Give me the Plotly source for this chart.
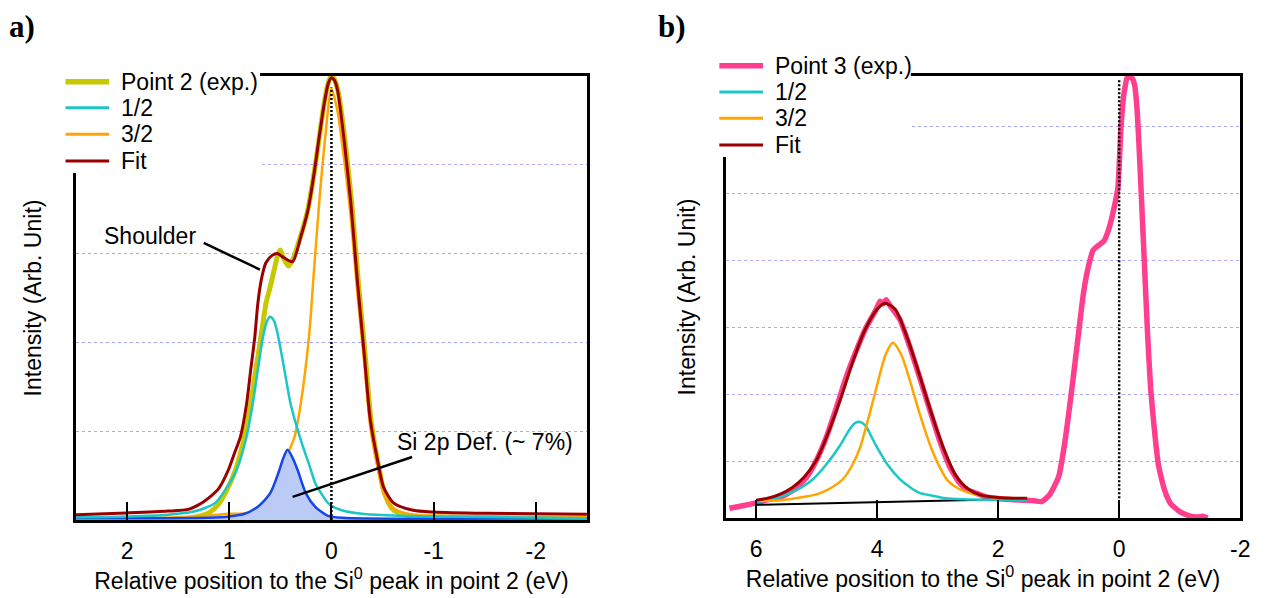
import plotly.graph_objects as go

# page body has an 8px margin; lay out in reference pixels shifted by that amount
OFF = 8
W, H = 1276 - OFF, 598 - OFF

# ---------------- Panel a data (Point 2) ----------------
a_exp_x = [2.5, 2.2, 2.0, 1.8, 1.6, 1.4, 1.3, 1.2, 1.11, 1.04, 0.94, 0.85, 0.79, 0.74, 0.69, 0.64, 0.60, 0.56,
           0.52, 0.50, 0.47, 0.42, 0.38, 0.30, 0.23, 0.17, 0.12, 0.07, 0.03, 0.0, -0.03, -0.07, -0.13, -0.20,
           -0.26, -0.33, -0.39, -0.46, -0.52, -0.60, -0.70, -0.85, -1.05, -1.2, -1.5, -2.0, -2.5]
a_exp_y = [0.02, 0.0, -0.03, -0.03, 0.0, 0.02, 0.04, 0.08, 0.17, 0.30, 0.56, 0.94, 1.31, 1.69, 2.06, 2.44, 2.62, 2.82,
           3.0, 3.04, 2.95, 2.86, 2.93, 3.2, 3.5, 3.9, 4.3, 4.7, 4.93, 5.0, 4.96, 4.8, 4.3, 3.55,
           2.72, 1.86, 1.1, 0.62, 0.30, 0.12, 0.06, 0.04, -0.02, 0.02, 0.02, 0.01, 0.01]

a_half_x = [2.5, 2.0, 1.6, 1.37, 1.25, 1.14, 1.05, 0.93, 0.83, 0.77, 0.72, 0.67, 0.63, 0.60, 0.56, 0.52, 0.46,
            0.40, 0.31, 0.20, 0.16, 0.10, 0.04, 0.0, -0.1, -0.3, -0.6, -1.0, -2.5]
a_half_y = [0.03, 0.04, 0.06, 0.09, 0.13, 0.19, 0.32, 0.56, 0.94, 1.31, 1.69, 2.06, 2.24, 2.29, 2.24, 2.06, 1.69,
            1.31, 0.94, 0.56, 0.42, 0.30, 0.20, 0.16, 0.11, 0.07, 0.05, 0.04, 0.02]

a_3half_x = [2.5, 1.5, 1.2, 1.0, 0.8, 0.7, 0.6, 0.5, 0.41, 0.36, 0.30, 0.22, 0.17, 0.12, 0.06, 0.0, -0.06,
             -0.12, -0.19, -0.25, -0.32, -0.38, -0.45, -0.51, -0.61, -0.8, -1.0, -2.5]
a_3half_y = [0.02, 0.03, 0.05, 0.07, 0.08, 0.15, 0.3, 0.5, 0.79, 0.94, 1.31, 2.06, 2.82, 3.57, 4.32, 4.86, 4.6,
             4.1, 3.4, 2.6, 1.78, 1.05, 0.6, 0.3, 0.13, 0.06, 0.05, 0.03]

a_def_x = [2.5, 1.2, 1.0, 0.85, 0.72, 0.60, 0.51, 0.47, 0.43, 0.38, 0.33, 0.25, 0.16, 0.04, -0.1, -2.5]
a_def_y = [0.02, 0.025, 0.04, 0.07, 0.15, 0.30, 0.56, 0.70, 0.79, 0.70, 0.56, 0.30, 0.15, 0.05, 0.025, 0.02]

a_fit_x = [2.5, 2.0, 1.6, 1.4, 1.3, 1.2, 1.1, 1.01, 0.95, 0.89, 0.83, 0.79, 0.75, 0.72, 0.68, 0.64, 0.58,
           0.53, 0.46, 0.38, 0.30, 0.23, 0.17, 0.12, 0.07, 0.03, 0.0, -0.03, -0.06, -0.12, -0.19, -0.25, -0.32,
           -0.38, -0.45, -0.51, -0.61, -0.8, -1.0, -1.5, -2.0, -2.5]
a_fit_y = [0.06, 0.08, 0.10, 0.12, 0.17, 0.25, 0.36, 0.56, 0.75, 0.94, 1.31, 1.69, 2.06, 2.44, 2.74, 2.9, 2.98,
           3.0, 2.95, 2.91, 3.19, 3.49, 3.9, 4.31, 4.69, 4.92, 4.98, 4.95, 4.84, 4.32, 3.57, 2.74, 1.88,
           1.13, 0.68, 0.37, 0.19, 0.11, 0.09, 0.075, 0.07, 0.065]

# ---------------- Panel b data (Point 3) ----------------
b_exp_x = [6.44, 6.2, 6.0, 5.8, 5.59, 5.38, 5.16, 5.0, 4.84, 4.67, 4.51, 4.34, 4.18, 4.02, 3.95, 3.90, 3.85,
           3.79, 3.62, 3.46, 3.30, 3.13, 2.97, 2.80, 2.64, 2.5, 2.38, 2.2, 2.05, 1.8, 1.56, 1.4, 1.28, 1.15,
           1.0, 0.90, 0.79, 0.67, 0.59, 0.51, 0.43, 0.33, 0.25, 0.16, 0.08, 0.02, -0.03, -0.08, -0.14,
           -0.22, -0.26, -0.30, -0.34, -0.38, -0.42, -0.47, -0.52, -0.58, -0.65, -0.75, -0.85, -1.0,
           -1.15, -1.3, -1.38, -1.46]
b_exp_y = [0.31, 0.35, 0.39, 0.44, 0.48, 0.58, 0.78, 1.03, 1.37, 1.82, 2.27, 2.67, 3.01, 3.27, 3.40, 3.36, 3.42,
           3.34, 3.12, 2.72, 2.27, 1.78, 1.33, 0.93, 0.69, 0.58, 0.54, 0.48, 0.46, 0.44, 0.43, 0.42, 0.41, 0.51,
           0.78, 1.28, 2.03, 2.93, 3.52, 3.91, 4.16, 4.24, 4.30, 4.51, 4.81, 5.1, 6.0, 6.5, 6.76,
           6.72, 6.6, 6.2, 5.5, 4.7, 3.9, 2.9, 2.1, 1.5, 0.95, 0.58, 0.38, 0.26,
           0.20, 0.18, 0.19, 0.16]

b_half_x = [6.0, 5.7, 5.43, 5.25, 5.05, 4.85, 4.61, 4.48, 4.38, 4.30, 4.2, 4.02, 3.82, 3.62, 3.45, 3.30, 3.1,
            2.87, 2.4, 1.52]
b_half_y = [0.40, 0.45, 0.54, 0.62, 0.75, 0.95, 1.25, 1.45, 1.57, 1.60, 1.55, 1.25, 0.95, 0.74, 0.62, 0.54, 0.50,
            0.46, 0.44, 0.43]

b_3half_x = [6.0, 5.59, 5.2, 4.93, 4.75, 4.56, 4.4, 4.28, 4.12, 3.98, 3.86, 3.74, 3.6, 3.46, 3.30, 3.11,
             2.97, 2.84, 2.65, 2.48, 2.05, 1.52]
b_3half_y = [0.42, 0.43, 0.48, 0.54, 0.62, 0.75, 0.97, 1.22, 1.73, 2.22, 2.6, 2.78, 2.6, 2.22, 1.73, 1.22,
             0.93, 0.73, 0.60, 0.54, 0.47, 0.46]

b_fit_x = [6.0, 5.8, 5.6, 5.4, 5.2, 5.0, 4.8, 4.6, 4.4, 4.2, 4.0, 3.87, 3.7, 3.5, 3.3, 3.1, 2.9, 2.7, 2.5,
           2.3, 2.0, 1.75, 1.52]
b_fit_y = [0.43, 0.46, 0.52, 0.62, 0.78, 1.03, 1.45, 1.95, 2.5, 2.97, 3.28, 3.37, 3.28, 2.85, 2.3, 1.72, 1.2,
           0.8, 0.6, 0.51, 0.47, 0.46, 0.46]

b_bg_x = [6.0, 1.52]
b_bg_y = [0.36, 0.45]

a_ticks = [2, 1, 0, -1, -2]
b_ticks = [6, 4, 2, 0, -2]

# ---------------- styling ----------------
FONT = "Liberation Sans, Arial, sans-serif"
FS = 23
YEL = "#c8c800"
CYAN = "#1cc6c6"
ORANGE = "#ffa500"
RED = "#9a0000"
BLUE = "#1446ee"
FILL = "#bccbf6"
PINK = "#ff3f8e"
GRID = "#a9a9f7"


def px(x):
    return (x - OFF) / W


def py(y):
    return 1 - (y - OFF) / H


fig = go.Figure()


def sp(xs, ys, color, width, name, xa="x", ya="y", smooth=0.7, **kw):
    fig.add_trace(go.Scatter(x=xs, y=ys, mode="lines", name=name, showlegend=False,
                             line=dict(color=color, width=width, shape="spline", smoothing=smooth),
                             xaxis=xa, yaxis=ya, hoverinfo="skip", **kw))


# panel a
sp(a_exp_x, a_exp_y, YEL, 5, "Point 2 (exp.)")
sp(a_3half_x, a_3half_y, ORANGE, 2.5, "3/2")
sp(a_def_x, a_def_y, BLUE, 2.5, "Si 2p Def.", fill="tozeroy", fillcolor=FILL)
sp(a_half_x, a_half_y, CYAN, 2.5, "1/2")
sp(a_fit_x, a_fit_y, RED, 3, "Fit")

# panel b
sp(b_exp_x, b_exp_y, PINK, 5.5, "Point 3 (exp.)", "x2", "y2", smooth=0.5)
fig.add_trace(go.Scatter(x=b_bg_x, y=b_bg_y, mode="lines", showlegend=False, name="background",
                         line=dict(color="black", width=2), xaxis="x2", yaxis="y2", hoverinfo="skip"))
sp(b_half_x, b_half_y, CYAN, 2.5, "1/2", "x2", "y2")
sp(b_3half_x, b_3half_y, ORANGE, 2.5, "3/2", "x2", "y2")
sp(b_fit_x, b_fit_y, RED, 3, "Fit", "x2", "y2")

xtitle = "Relative position to the Si<sup>0</sup> peak in point 2 (eV)"
axis_common = dict(showline=True, mirror=True, linecolor="black", linewidth=2.5, zeroline=False)
xcommon = dict(axis_common, ticks="inside", ticklen=18, tickwidth=2, tickcolor="black", showgrid=False,
               tickfont=dict(family=FONT, size=FS, color="black"), ticklabelstandoff=9,
               title=dict(text=xtitle, font=dict(family=FONT, size=FS, color="black"), standoff=3))
ycommon = dict(axis_common, showticklabels=False, ticks="", showgrid=True, gridcolor=GRID, gridwidth=1,
               griddash="3px,3px")
ytitle_text = "Intensity (Arb. Unit)"

fig.update_layout(
    width=W, height=H, autosize=False,
    margin=dict(l=0, r=0, t=0, b=0),
    paper_bgcolor="white", plot_bgcolor="white",
    font=dict(family=FONT, color="black"),
    xaxis=dict(xcommon, domain=[px(76.5), px(591.5)], range=[2.5, -2.5], tickvals=a_ticks,
               ticktext=[str(t) for t in a_ticks], anchor="y"),
    yaxis=dict(ycommon, domain=[py(520), py(76)], range=[0, 5], tickvals=[1, 2, 3, 4], anchor="x",
               title=dict(text=ytitle_text, font=dict(family=FONT, size=FS, color="black"), standoff=26)),
    xaxis2=dict(xcommon, domain=[px(731.5), px(1250)], range=[6.5, -2.0], tickvals=b_ticks,
                ticktext=[str(t) for t in b_ticks], anchor="y2"),
    yaxis2=dict(ycommon, domain=[py(518), py(76)], range=[0.164, 6.76], tickvals=[1, 2, 3, 4, 5, 6],
                anchor="x2",
                title=dict(text=ytitle_text, font=dict(family=FONT, size=FS, color="black"), standoff=21)),
)

shapes = []
# dotted reference lines at 0
shapes.append(dict(type="line", xref="x", yref="y", x0=0, x1=0, y0=0, y1=4.87,
                   line=dict(color="black", width=2.5, dash="2px,2px"), layer="above"))
shapes.append(dict(type="line", xref="x2", yref="y2", x0=0, x1=0, y0=0.46, y1=6.72,
                   line=dict(color="black", width=2.5, dash="2px,2px"), layer="above"))
# annotation leader lines
shapes.append(dict(type="line", xref="x", yref="y", x0=1.25, y0=3.12, x1=0.70, y1=2.82,
                   line=dict(color="black", width=2.5), layer="above"))
shapes.append(dict(type="line", xref="x", yref="y", x0=-0.79, y0=0.71, x1=0.38, y1=0.26,
                   line=dict(color="black", width=2.5), layer="above"))
# legend backgrounds
shapes.append(dict(type="rect", xref="paper", yref="paper", x0=px(58), x1=px(262), y0=py(173), y1=py(62),
                   fillcolor="white", line=dict(width=0), layer="above"))
shapes.append(dict(type="rect", xref="paper", yref="paper", x0=px(715), x1=px(918), y0=py(157), y1=py(50),
                   fillcolor="white", line=dict(width=0), layer="above"))

annotations = []
legend_a = [("Point 2 (exp.)", YEL, 5.5), ("1/2", CYAN, 3), ("3/2", ORANGE, 3), ("Fit", RED, 3)]
legend_b = [("Point 3 (exp.)", PINK, 5.5), ("1/2", CYAN, 3), ("3/2", ORANGE, 3), ("Fit", RED, 3)]
ya_rows = [81.7, 107.7, 134.3, 161]
yb_rows = [65.7, 92, 118.3, 145]
for (txt, col, w), yy in zip(legend_a, ya_rows):
    shapes.append(dict(type="line", xref="paper", yref="paper", x0=px(66), x1=px(110), y0=py(yy), y1=py(yy),
                       line=dict(color=col, width=w), layer="above"))
    annotations.append(dict(text=txt, xref="paper", yref="paper", x=px(120), y=py(yy), xanchor="left",
                            yanchor="middle", showarrow=False, font=dict(family=FONT, size=FS, color="black")))
for (txt, col, w), yy in zip(legend_b, yb_rows):
    shapes.append(dict(type="line", xref="paper", yref="paper", x0=px(725), x1=px(769), y0=py(yy), y1=py(yy),
                       line=dict(color=col, width=w), layer="above"))
    annotations.append(dict(text=txt, xref="paper", yref="paper", x=px(779), y=py(yy), xanchor="left",
                            yanchor="middle", showarrow=False, font=dict(family=FONT, size=FS, color="black")))

annotations.append(dict(text="Shoulder", xref="x", yref="y", x=1.78, y=3.2, showarrow=False,
                        xanchor="center", yanchor="middle", font=dict(family=FONT, size=FS, color="black")))
annotations.append(dict(text="Si 2p Def. (~ 7%)", xref="x", yref="y", x=-1.50, y=0.88, showarrow=False,
                        xanchor="center", yanchor="middle", font=dict(family=FONT, size=FS, color="black")))
annotations.append(dict(text="<b>a)</b>", xref="paper", yref="paper", x=0, y=1, showarrow=False,
                        xanchor="left", yanchor="top", borderpad=0,
                        font=dict(family="Liberation Serif, serif", size=31, color="black")))
annotations.append(dict(text="<b>b)</b>", xref="paper", yref="paper", x=px(662), y=1, showarrow=False,
                        xanchor="left", yanchor="top", borderpad=0,
                        font=dict(family="Liberation Serif, serif", size=31, color="black")))

fig.update_layout(shapes=shapes, annotations=annotations)
fig.write_html("out.html")
